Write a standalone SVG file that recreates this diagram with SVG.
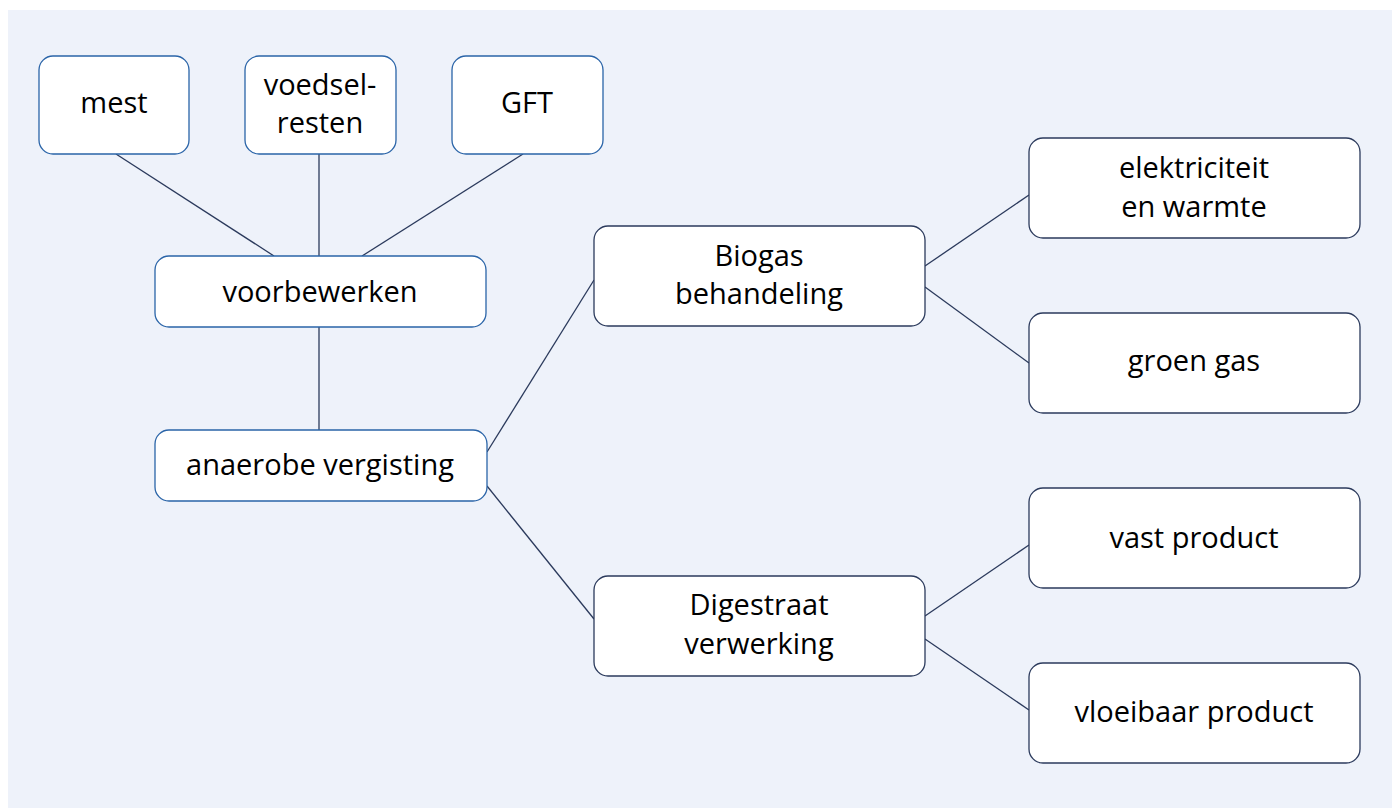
<svg xmlns="http://www.w3.org/2000/svg" width="1397" height="808" viewBox="0 0 1397 808">
<style>
.bg{fill:#eef2fa}
.a{fill:#fff;stroke:#2a64a8;stroke-width:1.3}
.b{fill:#fff;stroke:#2b3a5c;stroke-width:1.3}
.c{stroke:#2b3a5c;stroke-width:1.3;fill:none}
text{font-family:"Open Sans","Liberation Sans",sans-serif;font-size:29px;fill:#000;text-anchor:middle}
</style>
<rect x="0" y="0" width="1397" height="808" fill="#fff"/>
<rect class="bg" x="8" y="10" width="1384" height="798"/>
<g id="connectors">
<line class="c" x1="116" y1="154" x2="274" y2="256"/>
<line class="c" x1="319" y1="154" x2="319" y2="256"/>
<line class="c" x1="523" y1="154" x2="362" y2="256"/>
<line class="c" x1="319" y1="327" x2="319" y2="430"/>
<line class="c" x1="487" y1="452" x2="594" y2="280"/>
<line class="c" x1="487" y1="486" x2="594" y2="619"/>
<line class="c" x1="925" y1="266" x2="1029" y2="195"/>
<line class="c" x1="925" y1="287" x2="1029" y2="363"/>
<line class="c" x1="925" y1="616" x2="1029" y2="545"/>
<line class="c" x1="925" y1="639" x2="1029" y2="710"/>
</g>
<g id="mest"><rect class="a" x="39" y="56" width="150" height="98" rx="14"/><text x="114" y="113">mest</text></g>
<g id="voedselresten"><rect class="a" x="245" y="56" width="151" height="98" rx="14"/><text x="320" y="95">voedsel-</text><text x="320" y="133">resten</text></g>
<g id="gft"><rect class="a" x="452" y="56" width="151" height="98" rx="14"/><text x="527" y="113">GFT</text></g>
<g id="voorbewerken"><rect class="a" x="155" y="256" width="331" height="71" rx="14"/><text x="320" y="302">voorbewerken</text></g>
<g id="anaerobe"><rect class="a" x="155" y="430" width="332" height="71" rx="14"/><text x="320" y="475">anaerobe vergisting</text></g>
<g id="biogas"><rect class="b" x="594" y="226" width="331" height="100" rx="14"/><text x="759" y="266">Biogas</text><text x="759" y="304">behandeling</text></g>
<g id="digestraat"><rect class="b" x="594" y="576" width="331" height="100" rx="14"/><text x="759" y="615">Digestraat</text><text x="759" y="654">verwerking</text></g>
<g id="elektriciteit"><rect class="b" x="1029" y="138" width="331" height="100" rx="14"/><text x="1194" y="178">elektriciteit</text><text x="1194" y="217">en warmte</text></g>
<g id="groengas"><rect class="b" x="1029" y="313" width="331" height="100" rx="14"/><text x="1194" y="371">groen gas</text></g>
<g id="vast"><rect class="b" x="1029" y="488" width="331" height="100" rx="14"/><text x="1194" y="548">vast product</text></g>
<g id="vloeibaar"><rect class="b" x="1029" y="663" width="331" height="100" rx="14"/><text x="1194" y="722">vloeibaar product</text></g>
</svg>
